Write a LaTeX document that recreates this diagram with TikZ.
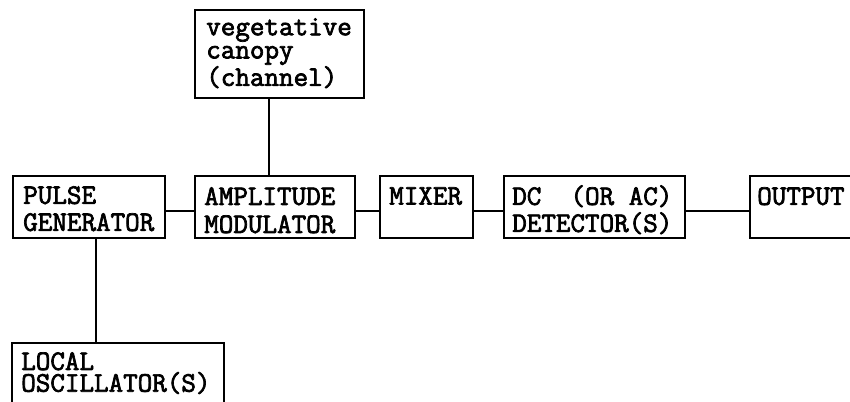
\documentclass[tikz,border=0pt]{standalone}
\usepackage{fontspec}
\newfontfamily\labfont{Latin Modern Mono}[FakeBold=2.5]
\begin{document}
\begin{tikzpicture}[x=0.75pt,y=-0.75pt,
  box/.style={draw, line width=1.3pt, inner sep=0pt, anchor=north west, minimum height=46.5pt},
  lbl/.style={anchor=north west, inner sep=0pt, align=left},
  capfont/.style={font=\labfont\fontsize{21.2pt}{20.25pt}\selectfont},
  wire/.style={line width=1.3pt}]
\useasboundingbox (0,0) rectangle (850,402);
\clip (0,0) rectangle (850,402);
% boxes
\node[box, minimum width=126.75pt, minimum height=66pt] (canopy) at (194,9) {};
\node[box, minimum width=114pt] (pulse) at (12,175) {};
\node[box, minimum width=120pt] (amp) at (194,175) {};
\node[box, minimum width=69.75pt] (mixer) at (379,175) {};
\node[box, minimum width=135.75pt] (dc) at (503,175) {};
\node[box, minimum width=97.5pt] (output) at (749,175) {};
\node[box, minimum width=159pt] (local) at (11,342) {};
% labels
\node[lbl, font=\labfont\fontsize{21.2pt}{17.4pt}\selectfont] (canopyt) at (206,18) {vegetative\\canopy\\(channel)};
\node[lbl, capfont] (pulset) at (23,186) {PULSE\\GENERATOR};
\node[lbl, font=\labfont\fontsize{21.2pt}{21pt}\selectfont] (ampt) at (204,187) {AMPLITUDE\\MODULATOR};
\node[lbl, capfont] (mixert) at (389,187) {MIXER};
\node[lbl, capfont] (dct) at (512,185) {DC~~(OR AC)\\DETECTOR(S)};
\node[lbl, capfont] (outputt) at (757,187) {OUTPUT};
\node[lbl, font=\labfont\fontsize{21.2pt}{16.3pt}\selectfont] (localt) at (21,352) {LOCAL\\OSCILLATOR(S)};
% connectors
\draw[wire] ([yshift=-3pt]pulse.east) -- ([yshift=-3pt]amp.west);
\draw[wire] ([yshift=-3pt]amp.east) -- ([yshift=-3pt]mixer.west);
\draw[wire] ([yshift=-3pt]mixer.east) -- ([yshift=-3pt]dc.west);
\draw[wire] ([yshift=-3pt]dc.east) -- ([yshift=-3pt]output.west);
\coordinate (ca) at ([xshift=-7.9pt]canopy.south);
\draw[wire] (ca) -- (ca |- amp.north);
\coordinate (pl) at ([xshift=5.25pt]pulse.south);
\draw[wire] (pl) -- (pl |- local.north);
\end{tikzpicture}
\end{document}
